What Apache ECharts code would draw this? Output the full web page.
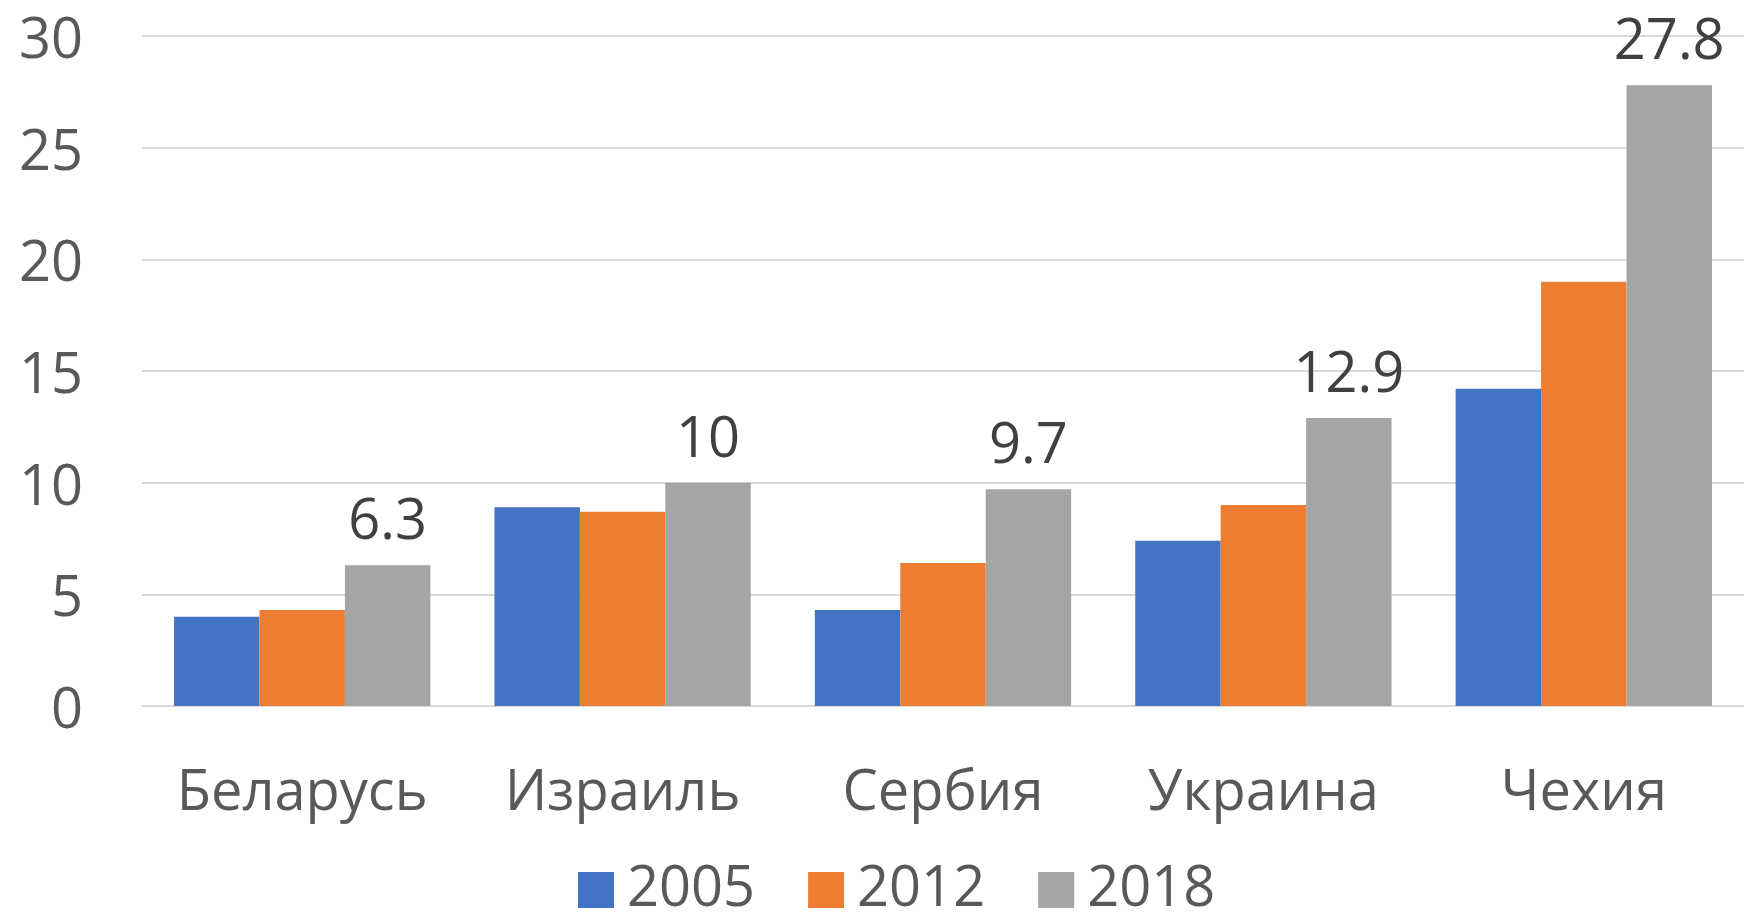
<!DOCTYPE html>
<html>
<head>
<meta charset="utf-8">
<script src="https://cdn.jsdelivr.net/npm/echarts@6/dist/echarts.min.js"></script>
<style>
  html, body { margin: 0; padding: 0; background: #fff; }
  #chart { width: 1744px; height: 915px; }
</style>
</head>
<body>
<div id="chart"></div>
<script>
// данные
const countries = ['Беларусь', 'Израиль', 'Сербия', 'Украина', 'Чехия'];
const years = ['2005', '2012', '2018'];
const values2005 = [4.0, 8.9, 4.3, 7.4, 14.2];
const values2012 = [4.3, 8.7, 6.4, 9.0, 19.0];
const values2018 = [6.3, 10, 9.7, 12.9, 27.8];
const yTicks = [0, 5, 10, 15, 20, 25, 30];

const colors = ['#4472C4', '#ED7D31', '#A5A5A5'];
const font = '"Open Sans", "Liberation Sans", sans-serif';

var myChart = echarts.init(document.getElementById('chart'));

function barSeries(name, data, color, withLabel) {
    return {
        name: name,
        type: 'bar',
        data: data,
        barGap: 0,
        barCategoryGap: '20%',
        itemStyle: { color: color },
        label: {
            show: withLabel,
            position: 'top',
            distance: 14,
            fontSize: 56,
            fontFamily: font,
            color: '#404040'
        }
    };
}

let option = {
    animation: false,
    color: colors,
    grid: { left: 142, right: 0, top: 36, bottom: 209 },
    legend: {
        data: years,
        left: 573,
        top: 857,
        itemWidth: 36,
        itemHeight: 36,
        itemGap: 53,
        icon: 'rect',
        textStyle: {
            fontSize: 56,
            fontFamily: font,
            color: '#595959',
            padding: [0, 0, 0, 8]
        }
    },
    xAxis: {
        type: 'category',
        data: countries,
        axisTick: { show: false },
        axisLine: { lineStyle: { color: '#D9D9D9', width: 2 } },
        axisLabel: {
            interval: 0,
            margin: 60,
            fontSize: 56,
            fontFamily: font,
            color: '#595959'
        }
    },
    yAxis: {
        type: 'value',
        min: yTicks[0],
        max: yTicks[yTicks.length - 1],
        interval: 5,
        axisLine: { show: false },
        axisTick: { show: false },
        splitLine: { lineStyle: { color: '#D9D9D9', width: 2 } },
        axisLabel: {
            margin: 59,
            formatter: '{v|{value}}',
            rich: {
                v: {
                    padding: [12, 0, 0, 0],
                    fontSize: 56,
                    fontFamily: font,
                    color: '#595959'
                }
            }
        }
    },
    series: [
        barSeries(years[0], values2005, colors[0], false),
        barSeries(years[1], values2012, colors[1], false),
        barSeries(years[2], values2018, colors[2], true)
    ]
};

myChart.setOption(option);
</script>
</body>
</html>
